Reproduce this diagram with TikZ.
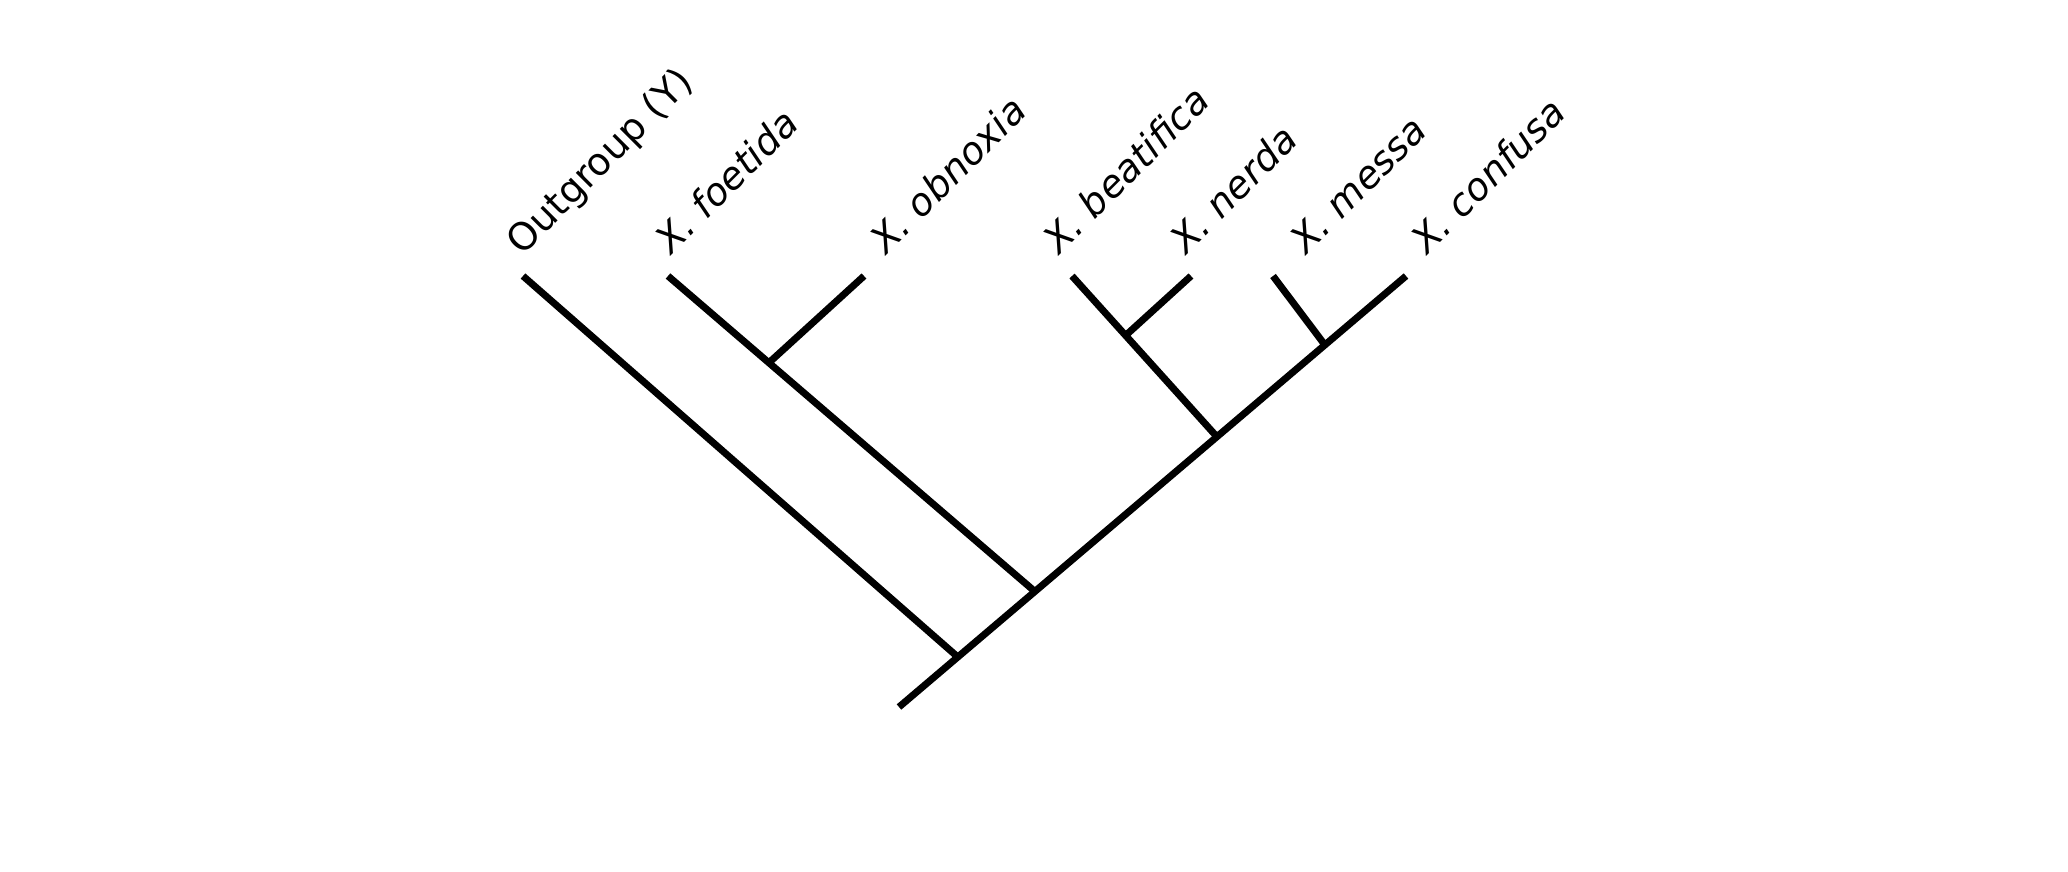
\documentclass[tikz,border=0pt]{standalone}
\usepackage{fontspec}
\setmainfont{DejaVu Sans}
\usepackage{tikz}
\usetikzlibrary{positioning,calc}

\begin{document}
\begin{tikzpicture}[x=1pt,y=-1pt,line width=7pt,
  taxon/.style={rotate=45,anchor=base west,inner sep=0pt,font=\fontsize{38}{46}\selectfont}]

\useasboundingbox (0,0) rectangle (2068,872);

\coordinate (root) at (899,707);
\coordinate (tipOut) at (523,276);
\coordinate (tipFoe) at (668,276);
\coordinate (tipObn) at (864,276);
\coordinate (tipBea) at (1072,276);
\coordinate (tipNer) at (1191,276);
\coordinate (tipMes) at (1273,276);
\coordinate (tipCon) at (1406,276);

\coordinate (nodeA) at ($(root)!0.116!(tipCon)$);
\coordinate (nodeB) at ($(root)!0.268!(tipCon)$);
\coordinate (nodeD) at ($(root)!0.627!(tipCon)$);
\coordinate (nodeF) at ($(root)!0.840!(tipCon)$);
\coordinate (nodeC) at ($(tipFoe)!0.275!(nodeB)$);
\coordinate (nodeE) at ($(tipBea)!0.370!(nodeD)$);

\draw (root) -- (nodeA) -- (nodeB) -- (nodeD) -- (nodeF) -- (tipCon);
\draw (tipOut) -- (nodeA);
\draw (tipFoe) -- (nodeC) -- (nodeB);
\draw (tipObn) -- (nodeC);
\draw (tipBea) -- (nodeE) -- (nodeD);
\draw (tipNer) -- (nodeE);
\draw (tipMes) -- (nodeF);

\node[taxon] (labOut) at (520,259) {Outgroup (Y)};
\node[taxon] (labFoe) at (669,258) {\itshape X. foetida};
\node[taxon] (labObn) at (884,258) {\itshape X. obnoxia};
\node[taxon] (labBea) at (1057,258) {\itshape X. beatifica};
\node[taxon] (labNer) at (1184,258) {\itshape X. nerda};
\node[taxon] (labMes) at (1304,258) {\itshape X. messa};
\node[taxon] (labCon) at (1425,258) {\itshape X. confusa};

\end{tikzpicture}
\end{document}
